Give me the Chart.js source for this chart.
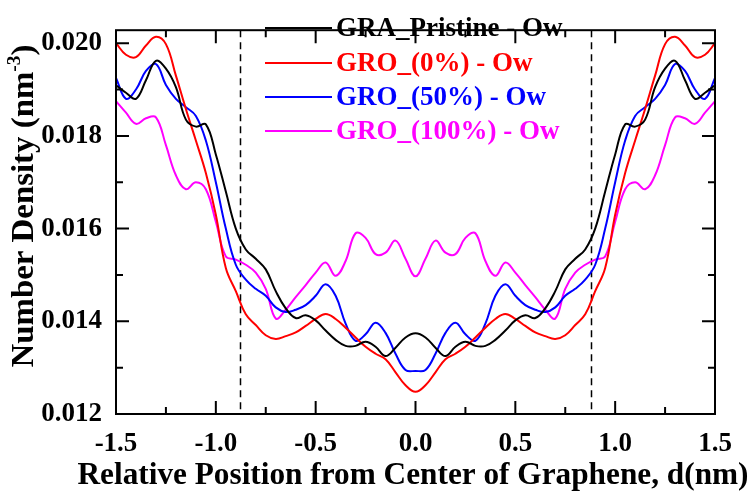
<!DOCTYPE html>
<html>
<head>
<meta charset="utf-8">
<script src="https://cdn.jsdelivr.net/npm/chart.js"></script>
<style>
  html, body { margin: 0; padding: 0; background: #fff; }
  #wrap { width: 756px; height: 496px; }
</style>
</head>
<body>
<div id="wrap"><canvas id="myChart" width="756" height="496"></canvas></div>
<script>
// positions along the slit, nm
const positions = [
  -1.50, -1.45, -1.40, -1.35, -1.30, -1.25, -1.20, -1.15, -1.10, -1.05,
  -1.00, -0.95, -0.90, -0.85, -0.80, -0.75, -0.70, -0.65, -0.60, -0.55,
  -0.50, -0.45, -0.40, -0.35, -0.30, -0.25, -0.20, -0.15, -0.10, -0.05,
  0.00,
  0.05, 0.10, 0.15, 0.20, 0.25, 0.30, 0.35, 0.40, 0.45, 0.50,
  0.55, 0.60, 0.65, 0.70, 0.75, 0.80, 0.85, 0.90, 0.95, 1.00,
  1.05, 1.10, 1.15, 1.20, 1.25, 1.30, 1.35, 1.40, 1.45, 1.50,
];

const graPristine = [
  0.01909, 0.01893, 0.01880, 0.01920, 0.01962, 0.01945, 0.01905, 0.01835, 0.01820, 0.01825,
  0.01760, 0.01680, 0.01600, 0.01555, 0.01535, 0.01512, 0.01465, 0.01428, 0.01407, 0.01413,
  0.01402, 0.01380, 0.01360, 0.01347, 0.01347, 0.01356, 0.01345, 0.01325, 0.01343, 0.01365,
  0.01374,
  0.01365, 0.01343, 0.01325, 0.01345, 0.01356, 0.01347, 0.01347, 0.01360, 0.01380, 0.01402,
  0.01413, 0.01407, 0.01428, 0.01465, 0.01512, 0.01535, 0.01555, 0.01600, 0.01680, 0.01760,
  0.01825, 0.01820, 0.01835, 0.01905, 0.01945, 0.01962, 0.01920, 0.01880, 0.01893, 0.01909,
];

const gro0 = [
  0.02000, 0.01975, 0.01970, 0.01995, 0.02014, 0.01998, 0.01930, 0.01858, 0.01790, 0.01720,
  0.01630, 0.01515, 0.01465, 0.01415, 0.01392, 0.01370, 0.01362, 0.01368, 0.01376, 0.01390,
  0.01405, 0.01416, 0.01405, 0.01386, 0.01365, 0.01345, 0.01330, 0.01318, 0.01290, 0.01262,
  0.01248,
  0.01262, 0.01290, 0.01318, 0.01330, 0.01345, 0.01365, 0.01386, 0.01405, 0.01416, 0.01405,
  0.01390, 0.01376, 0.01368, 0.01362, 0.01370, 0.01392, 0.01415, 0.01465, 0.01515, 0.01630,
  0.01720, 0.01790, 0.01858, 0.01930, 0.01998, 0.02014, 0.01995, 0.01970, 0.01975, 0.02000,
];

const gro50 = [
  0.01925, 0.01880, 0.01900, 0.01940, 0.01955, 0.01910, 0.01880, 0.01862, 0.01843, 0.01790,
  0.01700, 0.01600, 0.01522, 0.01490, 0.01470, 0.01455, 0.01430, 0.01420, 0.01425, 0.01435,
  0.01455, 0.01480, 0.01455, 0.01395, 0.01358, 0.01372, 0.01397, 0.01375, 0.01330, 0.01295,
  0.01293,
  0.01295, 0.01330, 0.01375, 0.01397, 0.01372, 0.01358, 0.01395, 0.01455, 0.01480, 0.01455,
  0.01435, 0.01425, 0.01420, 0.01430, 0.01455, 0.01470, 0.01490, 0.01522, 0.01600, 0.01700,
  0.01790, 0.01843, 0.01862, 0.01880, 0.01910, 0.01955, 0.01940, 0.01900, 0.01880, 0.01925,
];

const gro100 = [
  0.01875, 0.01850, 0.01826, 0.01838, 0.01840, 0.01780, 0.01715, 0.01685, 0.01700, 0.01685,
  0.01615, 0.01540, 0.01533, 0.01522, 0.01505, 0.01470, 0.01406, 0.01425, 0.01452, 0.01478,
  0.01505, 0.01527, 0.01498, 0.01530, 0.01590, 0.01580, 0.01545, 0.01548, 0.01574, 0.01535,
  0.01497,
  0.01535, 0.01574, 0.01548, 0.01545, 0.01580, 0.01590, 0.01530, 0.01498, 0.01527, 0.01505,
  0.01478, 0.01452, 0.01425, 0.01406, 0.01470, 0.01505, 0.01522, 0.01533, 0.01540, 0.01615,
  0.01685, 0.01700, 0.01685, 0.01715, 0.01780, 0.01840, 0.01838, 0.01826, 0.01850, 0.01875,
];

const seriesLabels = ['GRA_Pristine - Ow', 'GRO_(0%) - Ow', 'GRO_(50%) - Ow', 'GRO_(100%) - Ow'];
const seriesColors = ['#000000', '#ff0000', '#0000ff', '#ff00ff'];
const seriesValues = [graPristine, gro0, gro50, gro100];

// graphene edges (dashed lines)
const edges = [-0.88, 0.88];

const xMajor = [-1.5, -1.0, -0.5, 0.0, 0.5, 1.0, 1.5];
const xMinor = [-1.25, -0.75, -0.25, 0.25, 0.75, 1.25];
const yMajor = [0.012, 0.014, 0.016, 0.018, 0.020];
const yMinor = [0.013, 0.015, 0.017, 0.019];

const SERIF = '"Liberation Serif", "Times New Roman", serif';

const datasets = seriesValues.map((vals, i) => ({
  label: seriesLabels[i],
  data: positions.map((p, j) => ({ x: p, y: vals[j] })),
  borderColor: seriesColors[i],
  backgroundColor: seriesColors[i],
  borderWidth: 2,
  pointRadius: 0,
  tension: 0.4,
  fill: false,
}));

// draws a text squeezed/stretched to a target width, centred on (cx, cy)
function fitText(ctx, txt, cx, cy, targetW) {
  const w = ctx.measureText(txt).width;
  ctx.save();
  ctx.translate(cx, cy);
  ctx.scale(targetW / w, 1);
  ctx.textAlign = 'center';
  ctx.textBaseline = 'middle';
  ctx.fillText(txt, 0, 0);
  ctx.restore();
}

const decor = {
  id: 'decor',
  beforeDatasetsDraw(chart) {
    const { ctx, chartArea: a, scales: { x } } = chart;
    ctx.save();
    ctx.strokeStyle = '#000';
    ctx.lineWidth = 1.5;
    ctx.setLineDash([7, 5]);
    edges.forEach(e => {
      const px = Math.round(x.getPixelForValue(e)) + 0.5;
      ctx.beginPath();
      ctx.moveTo(px, a.top);
      ctx.lineTo(px, a.bottom);
      ctx.stroke();
    });
    ctx.restore();
  },
  afterDraw(chart) {
    const { ctx, chartArea: a, scales: { x, y } } = chart;
    ctx.save();
    ctx.strokeStyle = '#000';
    ctx.fillStyle = '#000';
    ctx.lineWidth = 2;
    ctx.strokeRect(a.left, a.top, a.right - a.left, a.bottom - a.top);

    // inward ticks on all four sides
    const tick = (vals, len) => {
      vals.forEach(v => {
        const px = x.getPixelForValue(v);
        ctx.beginPath();
        ctx.moveTo(px, a.bottom); ctx.lineTo(px, a.bottom - len);
        ctx.moveTo(px, a.top); ctx.lineTo(px, a.top + len);
        ctx.stroke();
      });
    };
    const ytick = (vals, len) => {
      vals.forEach(v => {
        const py = y.getPixelForValue(v);
        ctx.beginPath();
        ctx.moveTo(a.left, py); ctx.lineTo(a.left + len, py);
        ctx.moveTo(a.right, py); ctx.lineTo(a.right - len, py);
        ctx.stroke();
      });
    };
    tick(xMajor, 13); tick(xMinor, 7);
    ytick(yMajor, 13); ytick(yMinor, 7);

    // legend
    const rows = [28, 63, 97, 131];
    ctx.font = 'bold 27px ' + SERIF;
    ctx.textAlign = 'left';
    ctx.textBaseline = 'middle';
    seriesLabels.forEach((lab, i) => {
      ctx.strokeStyle = seriesColors[i];
      ctx.fillStyle = seriesColors[i];
      ctx.lineWidth = 2;
      ctx.beginPath();
      ctx.moveTo(265, rows[i]);
      ctx.lineTo(332, rows[i]);
      ctx.stroke();
      ctx.fillText(lab, 336, rows[i] + 1);
    });

    // axis titles
    ctx.fillStyle = '#000';
    ctx.font = 'bold 32px ' + SERIF;
    fitText(ctx, 'Relative Position from Center of Graphene, d(nm)', 413, 476, 671);

    ctx.translate(22, 206);
    ctx.rotate(-Math.PI / 2);
    const main = 'Number Density (nm';
    ctx.font = 'bold 32px ' + SERIF;
    const w1 = ctx.measureText(main).width;
    ctx.font = 'bold 19px ' + SERIF;
    const w2 = ctx.measureText('-3').width;
    ctx.font = 'bold 32px ' + SERIF;
    const w3 = ctx.measureText(')').width;
    const total = w1 + w2 + w3;
    const k = 323 / total;
    ctx.scale(k, 1);
    ctx.textBaseline = 'alphabetic';
    ctx.textAlign = 'left';
    let sx = -total / 2;
    ctx.fillText(main, sx, 11);
    sx += w1;
    ctx.font = 'bold 19px ' + SERIF;
    ctx.fillText('-3', sx, -2);
    sx += w2;
    ctx.font = 'bold 32px ' + SERIF;
    ctx.fillText(')', sx, 11);
    ctx.restore();
  },
};

const config = {
  type: 'line',
  data: { datasets: datasets },
  options: {
    responsive: false,
    animation: false,
    layout: { padding: { top: 4, right: 41, left: 0, bottom: 0 } },
    plugins: { legend: { display: false }, tooltip: { enabled: false } },
    scales: {
      x: {
        type: 'linear',
        min: -1.5,
        max: 1.5,
        grid: { display: false, drawTicks: false },
        border: { display: false },
        afterFit: s => { s.height = 82; },
        ticks: {
          stepSize: 0.5,
          includeBounds: false,
          padding: 14,
          color: '#000',
          maxRotation: 0,
          font: { family: SERIF, weight: 'bold', size: 27 },
          callback: v => v.toFixed(1),
        },
      },
      y: {
        min: 0.012,
        max: 0.02028,
        grid: { display: false, drawTicks: false },
        border: { display: false },
        afterFit: s => { s.width = 116; },
        ticks: {
          stepSize: 0.002,
          includeBounds: false,
          padding: 14,
          color: '#000',
          font: { family: SERIF, weight: 'bold', size: 27 },
          callback: v => v.toFixed(3),
        },
      },
    },
  },
  plugins: [decor],
};

const myChart = new Chart(document.getElementById('myChart'), config);
</script>
</body>
</html>
